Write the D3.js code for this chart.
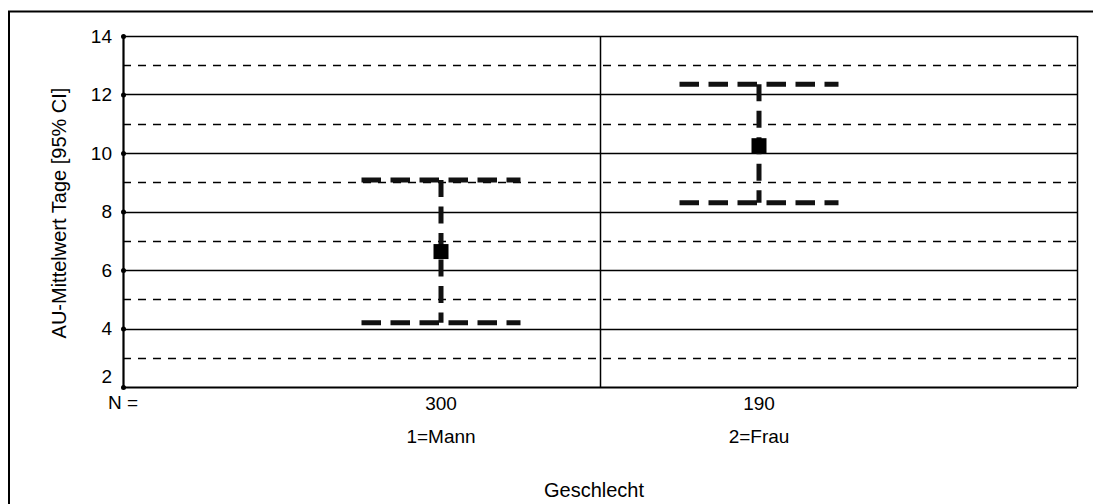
<!DOCTYPE html>
<html>
<head>
<meta charset="utf-8">
<script src="https://cdn.jsdelivr.net/npm/d3@7"></script>
<style>
  body { margin: 0; background: #fff; }
  svg { display: block; font-family: 'Liberation Sans', Arial, sans-serif; }
</style>
</head>
<body>
<svg id="chart" width="1093" height="504"></svg>
<script>
// Data
const categories = ['1=Mann', '2=Frau'];
const counts = [300, 190];
const means = [6.63, 10.25];
const lower = [4.2, 8.3];
const upper = [9.08, 12.35];
const yTicks = [2, 4, 6, 8, 10, 12, 14];
const yMinor = [3, 5, 7, 9, 11, 13];

const padding = { top: 36, right: 16, bottom: 117, left: 123 };
const width = 1093 - padding.left - padding.right;
const height = 504 - padding.top - padding.bottom;

const svg = d3.select('#chart');

// Outer frame (only left and top edges are visible)
svg.append('path')
  .attr('d', 'M9,504 V11.5 H1093')
  .attr('fill', 'none')
  .attr('stroke', '#000')
  .attr('stroke-width', 2);

const canvas = svg.append('g').attr('transform', `translate(${padding.left}, ${padding.top})`);

// Categories sit at 1 and 2 on a 0..3 axis, as in the original layout
const x = d3.scaleLinear().domain([0, 3]).range([0, width]);
const y = d3.scaleLinear().domain([2, 14]).range([height, 0]);

// Dashed grid at odd values
canvas.append('g').selectAll('line')
  .data(yMinor)
  .join('line')
  .attr('x1', 0).attr('x2', width)
  .attr('y1', d => Math.round(y(d)) + 0.5).attr('y2', d => Math.round(y(d)) + 0.5)
  .attr('stroke', '#000')
  .attr('stroke-width', 1.3)
  .attr('stroke-dasharray', '8,7');

// Solid grid at even values
canvas.append('g').selectAll('line')
  .data(yTicks)
  .join('line')
  .attr('x1', 0).attr('x2', width)
  .attr('y1', d => Math.round(y(d)) + 0.5).attr('y2', d => Math.round(y(d)) + 0.5)
  .attr('stroke', '#000')
  .attr('stroke-width', d => (d === 2 ? 2.2 : 1.5));

// Left axis, group divider and right border
canvas.append('g').selectAll('line')
  .data([0, 1.5, 3])
  .join('line')
  .attr('x1', d => Math.round(x(d)) + 0.5).attr('x2', d => Math.round(x(d)) + 0.5)
  .attr('y1', 0).attr('y2', height)
  .attr('stroke', '#000')
  .attr('stroke-width', d => (d === 0 ? 2.2 : 1.5));

// Y axis labels and tick dots; the lowest label is lifted off the axis line
const yAxis = canvas.append('g');
yAxis.selectAll('text')
  .data(yTicks)
  .join('text')
  .attr('x', -11)
  .attr('y', d => (d === 2 ? y(d) - 11 : y(d)))
  .attr('dy', '0.36em')
  .attr('text-anchor', 'end')
  .attr('font-size', 19)
  .text(d => d);
yAxis.selectAll('circle')
  .data(yTicks)
  .join('circle')
  .attr('cx', 0.5)
  .attr('cy', d => y(d) + 0.5)
  .attr('r', 2.5)
  .attr('fill', '#000');

// Error bars: dashed caps, dashed stem and a square at the mean
const capHalf = 0.25;
const bars = canvas.append('g').selectAll('g')
  .data(categories.map((c, i) => ({ c, i, m: means[i], lo: lower[i], hi: upper[i] })))
  .join('g');

bars.each(function(d) {
  const g = d3.select(this);
  const cx = x(d.i + 1);
  [d.hi, d.lo].forEach(v => {
    g.append('line')
      .attr('x1', x(d.i + 1 - capHalf)).attr('x2', x(d.i + 1 + capHalf))
      .attr('y1', y(v)).attr('y2', y(v))
      .attr('stroke', '#111')
      .attr('stroke-width', 5)
      .attr('stroke-dasharray', '19.5,9.5');
  });
  g.append('line')
    .attr('x1', cx).attr('x2', cx)
    .attr('y1', y(d.hi)).attr('y2', y(d.lo))
    .attr('stroke', '#111')
    .attr('stroke-width', 5)
    .attr('stroke-dasharray', '17,9.5');
  g.append('rect')
    .attr('x', cx - 7.5).attr('y', y(d.m) - 7.5)
    .attr('width', 15).attr('height', 15)
    .attr('fill', '#000');
});

// Bottom labels
const bottom = canvas.append('g').attr('font-size', 19);
bottom.append('text')
  .attr('x', 0).attr('y', height + 22)
  .attr('text-anchor', 'middle')
  .text('N =');
bottom.selectAll('text.n')
  .data(counts)
  .join('text')
  .attr('class', 'n')
  .attr('x', (d, i) => x(i + 1)).attr('y', height + 23)
  .attr('text-anchor', 'middle')
  .text(d => d);
bottom.selectAll('text.cat')
  .data(categories)
  .join('text')
  .attr('class', 'cat')
  .attr('x', (d, i) => x(i + 1)).attr('y', height + 56)
  .attr('text-anchor', 'middle')
  .text(d => d);

svg.append('text')
  .attr('x', 594).attr('y', 497)
  .attr('text-anchor', 'middle')
  .attr('font-size', 20)
  .text('Geschlecht');

svg.append('text')
  .attr('transform', `translate(66, 213) rotate(-90)`)
  .attr('text-anchor', 'middle')
  .attr('font-size', 20)
  .text('AU-Mittelwert Tage [95% CI]');
</script>
</body>
</html>
